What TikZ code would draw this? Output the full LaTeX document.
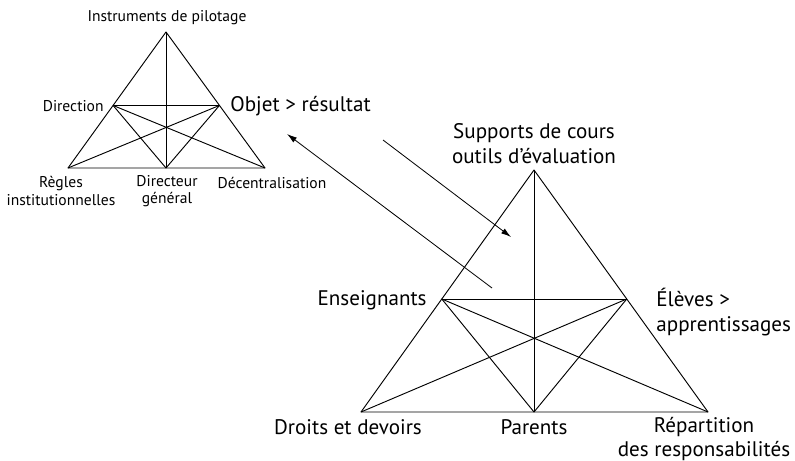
\documentclass[tikz,border=0pt]{standalone}
\usepackage{fontspec}
\setmainfont{PT Sans}
\usetikzlibrary{arrows.meta,calc}
\begin{document}
\begin{tikzpicture}[
  x=0.03cm, y=-0.03cm,
  edge/.style={line width=0.8pt, line join=round},
  flow/.style={line width=0.7pt, -{Latex[length=3mm,width=1.8mm]}},
  lblsmall/.style={font=\fontsize{13.3}{14.8}\selectfont, inner sep=1pt, align=center},
  lblbig/.style={font=\fontsize{18}{21.3}\selectfont, inner sep=1pt, align=center}
]
\useasboundingbox (0,0) rectangle (795,461);
% small triangle
\coordinate (sA)  at (166,32);
\coordinate (sBL) at (68,168);
\coordinate (sBR) at (265,168);
\coordinate (sB)  at (166,168);
\coordinate (sL)  at ($(sA)!0.54!(sBL)$);
\coordinate (sR)  at ($(sA)!0.54!(sBR)$);
\draw[edge] (sA) -- (sBL) -- (sBR) -- cycle;
\draw[edge] (sA) -- (sB);
\draw[edge] (sL) -- (sR);
\draw[edge] (sL) -- (sB) -- (sR);
\draw[edge] (sL) -- (sBR);
\draw[edge] (sR) -- (sBL);
\node[lblsmall] (pilot)  at (167,18)  {Instruments de pilotage};
\node[lblsmall, anchor=east] (direc) at (105,106) {Direction};
\node[lblbig, anchor=west]   (objet) at (229,106) {Objet > résultat};
\node[lblsmall] (regles) at (61,191)  {Règles\\institutionnelles};
\node[lblsmall] (dirgen) at (167,191) {Directeur\\général};
\node[lblsmall] (decent) at (272,183) {Décentralisation};
% large triangle
\coordinate (bA)  at (534,170);
\coordinate (bBL) at (361,412);
\coordinate (bBR) at (708,412);
\coordinate (bB)  at (534,412);
\coordinate (bL)  at ($(bA)!0.533!(bBL)$);
\coordinate (bR)  at ($(bA)!0.533!(bBR)$);
\draw[edge] (bA) -- (bBL) -- (bBR) -- cycle;
\draw[edge] (bA) -- (bB);
\draw[edge] (bL) -- (bR);
\draw[edge] (bL) -- (bB) -- (bR);
\draw[edge] (bL) -- (bBR);
\draw[edge] (bR) -- (bBL);
\node[lblbig] (supp)   at (534,144) {Supports de cours\\outils d'évaluation};
\node[lblbig, anchor=east] (ens) at (428,300) {Enseignants};
\node[lblbig, anchor=west, align=left] (eleves) at (655,312) {Élèves >\\apprentissages};
\node[lblbig] (droits) at (348,427) {Droits et devoirs};
\node[lblbig] (parents) at (534,427) {Parents};
\node[lblbig] (repart) at (704,439) {Répartition\\des responsabilités};
% arrows
\coordinate (upT) at (492,288);
\coordinate (upH) at (287,134);
\coordinate (dnT) at (383,140);
\coordinate (dnH) at (511,237);
\draw[flow] (upT) -- (upH);
\draw[flow] (dnT) -- (dnH);
\end{tikzpicture}
\end{document}
